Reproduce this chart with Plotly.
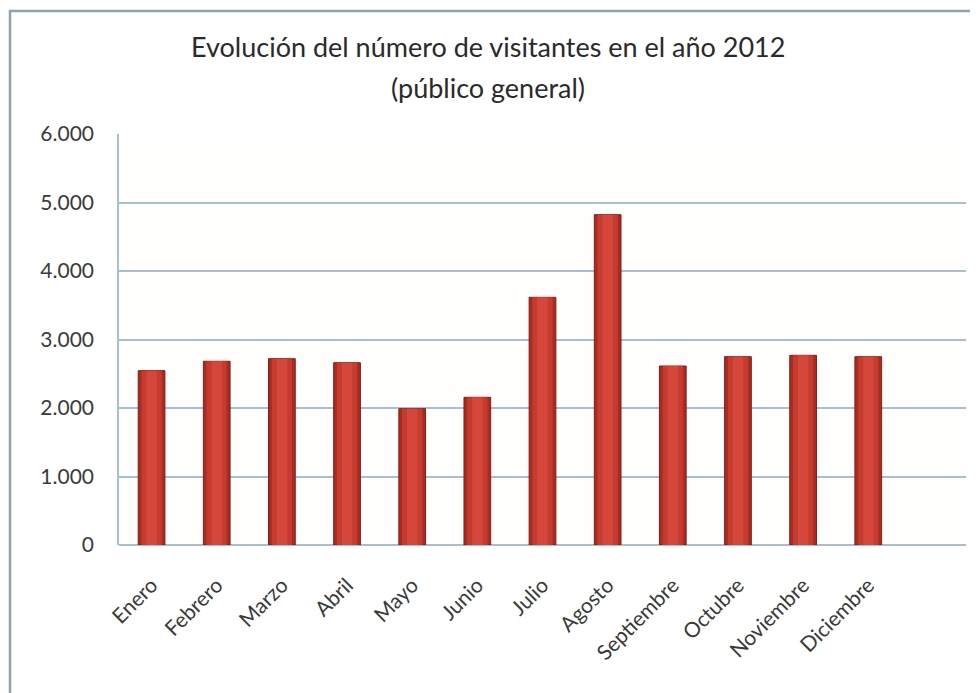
import plotly.graph_objects as go

months = ["Enero", "Febrero", "Marzo", "Abril", "Mayo", "Junio", "Julio",
          "Agosto", "Septiembre", "Octubre", "Noviembre", "Diciembre"]
visitors = [2545, 2682, 2720, 2661, 1990, 2156, 3616, 4822, 2613, 2749, 2769, 2749]
y_ticks = [0, 1000, 2000, 3000, 4000, 5000, 6000]
title_line1 = "Evolución del número de visitantes en el año 2012"
title_line2 = "(público general)"

W, H = 978, 693
OFF = 8  # page body margin
# plot area in screen pixels: x 119..966, y 134..545
L = 119 - OFF
T = 134 - OFF
R = W - (966 - OFF)
B = H - (545 - OFF)
pw, ph = W - L - R, H - T - B

def px(x):
    return (x - OFF - L) / pw

def py(y):
    return (H - B - (y - OFF)) / ph

grid_col = "#A7C0D0"
text_col = "#3A3A3A"
font_fam = "Lato, 'Open Sans', sans-serif"

fig = go.Figure()
fig.add_trace(go.Bar(
    x=months, y=visitors, width=0.41,
    marker=dict(color="#A92C23", line=dict(color="#7E1F18", width=1)),
    hoverinfo="x+y",
))
fig.add_trace(go.Bar(
    x=months, y=visitors, width=0.31,
    marker=dict(color="#C63B2F", line=dict(width=0)),
    hoverinfo="skip",
))
fig.add_trace(go.Bar(
    x=months, y=visitors, width=0.16,
    marker=dict(color="#D5473A", line=dict(width=0)),
    hoverinfo="skip",
))

fig.update_layout(
    width=W, height=H,
    margin=dict(l=L, r=R, t=T, b=B, pad=0),
    paper_bgcolor="white",
    plot_bgcolor="#FFFEFD",
    barmode="overlay",
    showlegend=False,
    separators=",.",
    font=dict(family=font_fam, color=text_col),
    xaxis=dict(
        range=[-0.5, 12.5], tickangle=-45,
        tickfont=dict(size=21, color=text_col, family=font_fam),
        showgrid=False, showline=False, ticks="", zeroline=False,
        ticklabelstandoff=23,
    ),
    yaxis=dict(
        range=[0, 6000], tickvals=y_ticks, tickformat=",d",
        tickfont=dict(size=21, color=text_col, family=font_fam),
        showgrid=True, gridcolor=grid_col, gridwidth=1.5,
        showline=True, linecolor=grid_col, linewidth=1.5,
        zeroline=True, zerolinecolor=grid_col, zerolinewidth=1.5,
        ticks="", ticklabelstandoff=19,
    ),
    shapes=[
        dict(type="rect", xref="paper", yref="paper",
             x0=px(10), x1=px(1015), y0=py(715), y1=py(11),
             line=dict(color="#8FA3B0", width=2.5), fillcolor="rgba(0,0,0,0)",
             layer="below"),
    ],
    annotations=[
        dict(text=title_line1, xref="paper", yref="paper", x=px(488), y=py(47),
             xanchor="center", yanchor="middle", showarrow=False,
             font=dict(size=27, color="#2A2A2A", family=font_fam)),
        dict(text=title_line2, xref="paper", yref="paper", x=px(488), y=py(88),
             xanchor="center", yanchor="middle", showarrow=False,
             font=dict(size=27, color="#2A2A2A", family=font_fam)),
    ],
)

fig.write_html("out.html")
